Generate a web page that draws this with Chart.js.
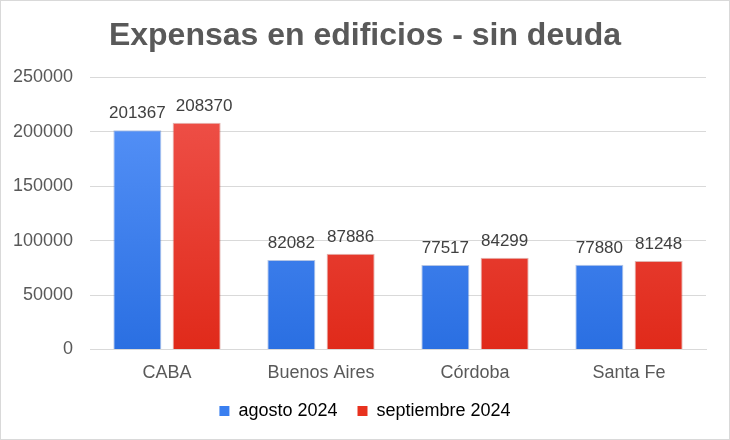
<!DOCTYPE html>
<html>
<head>
<meta charset="utf-8">
<script src="https://cdn.jsdelivr.net/npm/chart.js@4"></script>
<style>
  html, body { margin: 0; padding: 0; background: #fff; }
  #wrap { width: 728px; height: 438px; border: 1px solid #d9d9d9; }
</style>
</head>
<body>
<div id="wrap"><canvas id="myChart" width="728" height="438"></canvas></div>
<script>
const categories = ["CABA", "Buenos Aires", "Córdoba", "Santa Fe"];
const agosto = [201367, 82082, 77517, 77880];
const septiembre = [208370, 87886, 84299, 81248];
const yTicks = [0, 50000, 100000, 150000, 200000, 250000];

const textGray = "#595959";
const family = "'Liberation Sans', Arial, sans-serif";

// vertical gradient for the bars, lighter on top
function gradient(top, bottom) {
    return (c) => {
        const area = c.chart.chartArea;
        if (!area) return bottom;
        const g = c.chart.ctx.createLinearGradient(0, area.top, 0, area.bottom);
        g.addColorStop(0, top);
        g.addColorStop(1, bottom);
        return g;
    };
}

// numbers above each bar, nudged right when two labels would touch
const barLabels = {
    id: "barLabels",
    afterDatasetsDraw(chart) {
        const ctx = chart.ctx;
        ctx.save();
        ctx.font = "17px " + family;
        ctx.fillStyle = "#404040";
        ctx.textAlign = "center";
        ctx.textBaseline = "alphabetic";
        const prevRight = [];
        chart.data.datasets.forEach((ds, i) => {
            chart.getDatasetMeta(i).data.forEach((bar, j) => {
                const txt = String(ds.data[j]);
                const w = ctx.measureText(txt).width;
                let x = bar.x;
                if (prevRight[j] !== undefined && x - w / 2 < prevRight[j] + 10) {
                    x = prevRight[j] + 10 + w / 2;
                }
                ctx.fillText(txt, x, bar.y - 12);
                prevRight[j] = x + w / 2;
            });
        });
        ctx.restore();
    }
};

// center title and legend on the whole canvas, and tighten the legend vertically
const centerBoxes = {
    id: "centerBoxes",
    afterInit(chart) {
        const lg = chart.legend;
        if (!lg) return;
        const fit = lg.fit;
        lg.fit = function () {
            fit.call(this);
            this.height -= 7;
        };
        const draw = lg.draw;
        lg.draw = function () {
            this.top -= 15; this.bottom -= 15;
            draw.call(this);
            this.top += 15; this.bottom += 15;
        };
    },
    afterLayout(chart) {
        [chart.titleBlock, chart.legend].forEach(b => {
            if (!b) return;
            b.left = 0;
            b.right = chart.width;
            b.width = chart.width;
        });
    }
};

const ctx = document.getElementById("myChart");

new Chart(ctx, {
    type: "bar",
    data: {
        labels: categories,
        datasets: [
            {
                label: "agosto 2024",
                data: agosto,
                backgroundColor: gradient("#5b96fa", "#2a6fe2"),
                borderColor: "rgba(40,90,180,0.35)",
                borderWidth: 1
            },
            {
                label: "septiembre 2024",
                data: septiembre,
                backgroundColor: gradient("#f0554e", "#e02a1a"),
                borderColor: "rgba(170,40,30,0.35)",
                borderWidth: 1
            }
        ]
    },
    options: {
        responsive: false,
        animation: false,
        categoryPercentage: 0.77,
        barPercentage: 0.81,
        layout: { padding: { left: 0, right: 23, top: 0, bottom: 1 } },
        plugins: {
            title: {
                display: true,
                text: "Expensas en edificios - sin deuda",
                color: textGray,
                font: { family: family, size: 32, weight: "bold" },
                padding: { top: 16, bottom: 22 }
            },
            legend: {
                position: "bottom",
                labels: {
                    color: textGray,
                    font: { family: family, size: 18 },
                    boxWidth: 10,
                    boxHeight: 10,
                    padding: 20,
                    generateLabels(chart) {
                        const fills = ["#3a7ff0", "#e8321f"];
                        return chart.data.datasets.map((ds, i) => ({
                            text: ds.label,
                            fillStyle: fills[i],
                            strokeStyle: fills[i],
                            lineWidth: 0,
                            datasetIndex: i
                        }));
                    }
                }
            },
            tooltip: { enabled: false }
        },
        scales: {
            x: {
                grid: { display: false, drawTicks: false },
                border: { color: "#d9d9d9" },
                ticks: {
                    color: textGray,
                    font: { family: family, size: 18 },
                    padding: 13
                }
            },
            y: {
                min: 0,
                max: yTicks[yTicks.length - 1],
                afterBuildTicks(axis) {
                    axis.ticks = yTicks.map(v => ({ value: v }));
                },
                afterFit(axis) {
                    axis.width = 89;
                },
                grid: { color: "#d9d9d9", drawTicks: false },
                border: { display: false },
                ticks: {
                    color: textGray,
                    font: { family: family, size: 18 },
                    padding: 17,
                    callback: (v) => String(v)
                }
            }
        }
    },
    plugins: [barLabels, centerBoxes]
});
</script>
</body>
</html>
